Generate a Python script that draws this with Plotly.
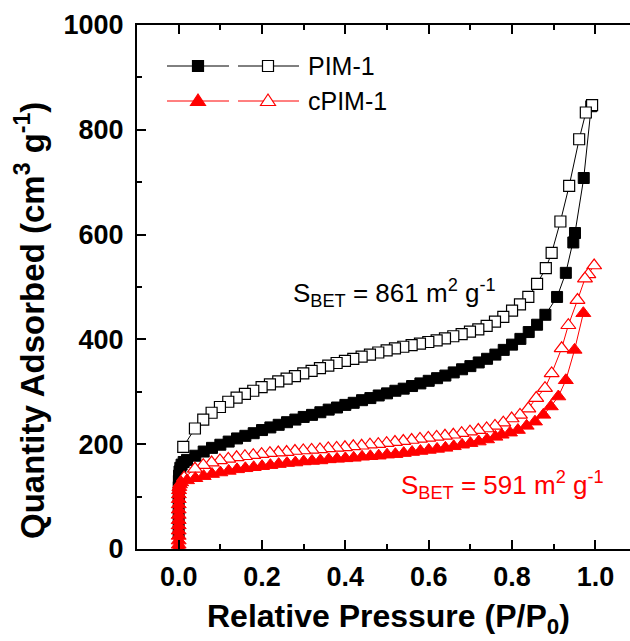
import plotly.graph_objects as go

# N2 isotherm data (P/P0, cm3 g-1)
pim_ads_p = [1e-6, 3e-6, 1e-5, 3e-5, 8e-5, 0.0002, 0.0005, 0.001, 0.002, 0.004, 0.007, 0.012,
             0.02, 0.04, 0.06, 0.08, 0.10, 0.12, 0.14, 0.16, 0.18, 0.20, 0.22, 0.24, 0.26, 0.28,
             0.30, 0.32, 0.34, 0.36, 0.38, 0.40, 0.42, 0.44, 0.46, 0.48, 0.50, 0.52, 0.54, 0.56,
             0.58, 0.60, 0.62, 0.64, 0.66, 0.68, 0.70, 0.72, 0.74, 0.76, 0.78, 0.80, 0.82, 0.84,
             0.86, 0.88, 0.908, 0.929, 0.947, 0.951, 0.972, 0.99]
pim_ads_v = [30, 50, 70, 90, 105, 118, 130, 140, 148, 155, 161, 166,
             170, 178, 186, 193, 199, 205, 211, 216, 221, 227, 232, 237, 242, 247,
             252, 256, 261, 266, 270, 275, 279, 284, 288, 293, 297, 302, 306, 311,
             316, 321, 326, 331, 337, 343, 349, 356, 363, 371, 380, 390, 401, 414,
             428, 447, 481, 527, 585, 603, 708, 845]

pim_des_p = [0.992, 0.977, 0.961, 0.937, 0.916, 0.895, 0.881, 0.860, 0.839, 0.819, 0.800,
             0.779, 0.759, 0.739, 0.719, 0.699, 0.679, 0.659, 0.639, 0.619, 0.599, 0.579,
             0.559, 0.539, 0.519, 0.499, 0.479, 0.459, 0.439, 0.419, 0.399, 0.379, 0.359,
             0.339, 0.319, 0.299, 0.279, 0.259, 0.239, 0.219, 0.199, 0.179, 0.159, 0.139,
             0.119, 0.099, 0.079, 0.059, 0.039, 0.011]
pim_des_v = [847, 833, 782, 693, 625, 565, 536, 506, 481, 467, 455,
             443, 434, 426, 419, 415, 410, 406, 402, 398, 395, 392,
             389, 386, 383, 379, 375, 371, 367, 363, 359, 355, 350,
             345, 340, 335, 330, 325, 320, 314, 309, 302, 296, 289,
             281, 271, 260, 247, 230, 195]

cpim_ads_p = [1e-7, 3e-7, 1e-6, 2e-6, 4e-6, 8e-6, 1.5e-5, 3e-5, 6e-5, 1e-4, 2e-4, 4e-4,
              8e-4, 0.0015, 0.003, 0.006,
              0.02, 0.04, 0.06, 0.08, 0.10, 0.12, 0.14, 0.16, 0.18, 0.20, 0.22, 0.24, 0.26,
              0.28, 0.30, 0.32, 0.34, 0.36, 0.38, 0.40, 0.42, 0.44, 0.46, 0.48, 0.50, 0.52,
              0.54, 0.56, 0.58, 0.60, 0.62, 0.64, 0.66, 0.68, 0.70, 0.72, 0.74, 0.76, 0.775,
              0.795, 0.814, 0.835, 0.855, 0.875, 0.893, 0.911, 0.929, 0.95, 0.971]
cpim_ads_v = [2, 8, 16, 25, 35, 45, 55, 65, 75, 85, 95, 104,
              112, 118, 123, 127,
              131, 135, 139, 143, 146, 149, 152, 154, 156, 158, 160, 162, 164,
              165, 167, 168, 169, 171, 172, 173, 174, 176, 177, 178, 180, 181,
              183, 185, 187, 189, 191, 193, 196, 199, 202, 205, 209, 214, 218,
              222, 227, 235, 243, 256, 272, 291, 322, 380, 450]

cpim_des_p = [0.997, 0.983, 0.975, 0.957, 0.935, 0.919, 0.895, 0.879, 0.858, 0.839, 0.819,
              0.799, 0.779, 0.759, 0.739, 0.719, 0.699, 0.679, 0.659, 0.639, 0.619, 0.599,
              0.579, 0.559, 0.539, 0.519, 0.499, 0.479, 0.459, 0.439, 0.419, 0.399, 0.379,
              0.359, 0.339, 0.319, 0.299, 0.279, 0.259, 0.239, 0.219, 0.199, 0.179, 0.159,
              0.139, 0.119, 0.099, 0.079, 0.059, 0.039, 0.013]
cpim_des_v = [541, 524, 516, 475, 427, 383, 335, 307, 288, 268, 256,
              249, 241, 235, 230, 227, 224, 221, 218, 216, 214, 212,
              210, 208, 206, 204, 202, 200, 199, 197, 196, 194, 193,
              192, 190, 189, 188, 187, 185, 184, 183, 181, 179, 177,
              175, 172, 169, 165, 160, 153, 136]

x_ticks = [0.0, 0.2, 0.4, 0.6, 0.8, 1.0]
x_ticklabels = ["0.0", "0.2", "0.4", "0.6", "0.8", "1.0"]
y_ticks = [0, 200, 400, 600, 800, 1000]

FONT = "Liberation Sans, Arial, sans-serif"
RED = "#ff0000"
W, H = 630, 641
L, R, T, B = 137, 630, 25, 549   # plot area in pixels

def px(x):
    return (x - L) / (R - L)

def py(y):
    return (B - y) / (B - T)

fig = go.Figure()

fig.add_trace(go.Scatter(x=pim_ads_p, y=pim_ads_v, mode="lines+markers",
                         line=dict(color="black", width=1),
                         marker=dict(symbol="square", size=11, color="black",
                                     line=dict(color="black", width=1)),
                         showlegend=False))
fig.add_trace(go.Scatter(x=pim_des_p, y=pim_des_v, mode="lines+markers",
                         line=dict(color="black", width=1),
                         marker=dict(symbol="square", size=11, color="white",
                                     line=dict(color="black", width=1.2)),
                         showlegend=False))
fig.add_trace(go.Scatter(x=cpim_des_p, y=cpim_des_v, mode="lines+markers",
                         line=dict(color=RED, width=1),
                         marker=dict(symbol="triangle-up", size=13, color="white",
                                     line=dict(color=RED, width=1.2)),
                         showlegend=False))
fig.add_trace(go.Scatter(x=cpim_ads_p, y=cpim_ads_v, mode="lines+markers",
                         line=dict(color=RED, width=1),
                         marker=dict(symbol="triangle-up", size=13, color=RED,
                                     line=dict(color=RED, width=1)),
                         showlegend=False))

shapes = []
annotations = []

# legend samples
def leg_line(x0, x1, y, color):
    shapes.append(dict(type="line", xref="paper", yref="paper",
                       x0=px(x0), x1=px(x1), y0=py(y), y1=py(y),
                       line=dict(color=color, width=1)))

def leg_square(cx, cy, fill):
    s = 5.5
    shapes.append(dict(type="rect", xref="paper", yref="paper",
                       x0=px(cx - s), x1=px(cx + s), y0=py(cy + s), y1=py(cy - s),
                       fillcolor=fill, line=dict(color="black", width=1.2)))

def leg_triangle(cx, cy, fill):
    hw, up, dn = 7.5, 7, 4.5
    path = (f"M {px(cx - hw)},{py(cy + dn)} L {px(cx + hw)},{py(cy + dn)} "
            f"L {px(cx)},{py(cy - up)} Z")
    shapes.append(dict(type="path", xref="paper", yref="paper", path=path,
                       fillcolor=fill, line=dict(color=RED, width=1.2)))

leg_line(167, 229, 66, "black")
leg_line(238, 299, 66, "black")
leg_square(198, 66, "black")
leg_square(268, 66, "white")
leg_line(167, 229, 101, RED)
leg_line(238, 299, 101, RED)
leg_triangle(198, 101, RED)
leg_triangle(268, 101, "white")

annotations.append(dict(x=px(306), y=py(66), xref="paper", yref="paper", text="PIM-1",
                        showarrow=False, xanchor="left", yanchor="middle",
                        font=dict(family=FONT, size=25, color="black")))
annotations.append(dict(x=px(306), y=py(101), xref="paper", yref="paper", text="cPIM-1",
                        showarrow=False, xanchor="left", yanchor="middle",
                        font=dict(family=FONT, size=25, color="black")))

annotations.append(dict(x=px(291), y=py(293), xref="paper", yref="paper",
                        text="S<sub>BET</sub> = 861 m<sup>2</sup> g<sup>-1</sup>",
                        showarrow=False, xanchor="left", yanchor="middle",
                        font=dict(family=FONT, size=26, color="black")))
annotations.append(dict(x=px(399), y=py(485), xref="paper", yref="paper",
                        text="S<sub>BET</sub> = 591 m<sup>2</sup> g<sup>-1</sup>",
                        showarrow=False, xanchor="left", yanchor="middle",
                        font=dict(family=FONT, size=26, color=RED)))

# axis titles
annotations.append(dict(x=px(388), y=py(618), xref="paper", yref="paper",
                        text="Relative Pressure (P/P<sub>0</sub>)",
                        showarrow=False, xanchor="center", yanchor="middle",
                        font=dict(family=FONT, size=32, color="black", weight="bold")))
annotations.append(dict(x=px(30), y=py(321), xref="paper", yref="paper",
                        text="Quantity Adsorbed (cm<sup>3</sup> g<sup>-1</sup>)",
                        textangle=-90, showarrow=False, xanchor="center", yanchor="middle",
                        font=dict(family=FONT, size=33, color="black", weight="bold")))

axis_common = dict(showgrid=False, zeroline=False, showline=True, linecolor="black",
                   linewidth=2, ticks="inside", tickcolor="black", tickwidth=2,
                   ticklen=9,
                   tickfont=dict(family=FONT, size=27, color="black", weight="bold"))

fig.update_layout(
    width=W, height=H,
    margin=dict(l=L, r=W - R, t=T, b=H - B, pad=0),
    paper_bgcolor="white", plot_bgcolor="white",
    shapes=shapes, annotations=annotations,
    xaxis=dict(range=[-0.1, 1.083], tickvals=x_ticks, ticktext=x_ticklabels,
               mirror="allticks", ticklabelstandoff=3,
               minor=dict(ticks="inside", tickvals=[0.1, 0.3, 0.5, 0.7, 0.9],
                          ticklen=5, tickwidth=2, tickcolor="black"),
               **axis_common),
    yaxis=dict(range=[0, 1000], tickvals=y_ticks, mirror=False, ticklabelstandoff=6,
               minor=dict(ticks="inside", tickvals=[100, 300, 500, 700, 900],
                          ticklen=5, tickwidth=2, tickcolor="black"),
               **axis_common),
)

fig.write_html("out.html")
